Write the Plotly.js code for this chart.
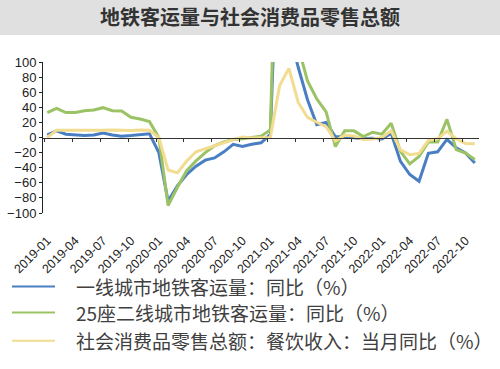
<!DOCTYPE html>
<html><head><meta charset="utf-8">
<script src="https://cdn.plot.ly/plotly-3.0.1.min.js"></script>
<style>html,body{margin:0;padding:0;background:#fff}#chart{width:500px;height:369px}</style>
</head><body><div id="chart"></div>
<script>
const months = [
  '2019-01','2019-02','2019-03','2019-04','2019-05','2019-06','2019-07','2019-08','2019-09','2019-10','2019-11','2019-12',
  '2020-01','2020-02','2020-03','2020-04','2020-05','2020-06','2020-07','2020-08','2020-09','2020-10','2020-11','2020-12',
  '2021-01','2021-02','2021-03','2021-04','2021-05','2021-06','2021-07','2021-08','2021-09','2021-10','2021-11','2021-12',
  '2022-01','2022-02','2022-03','2022-04','2022-05','2022-06','2022-07','2022-08','2022-09','2022-10','2022-11'
];
const tier1Metro = [
  3.4, 8.7, 4.3, 3.4, 2.6, 3.4, 6.0, 3.4, 1.7, 2.6, 3.4, 5.0,
  -20, -84, -64, -49, -38, -30, -27, -19, -9, -12, -9, -7,
  4, 340, 140, 93, 50, 17, 20, 1, 1, 0, -1.8, -1,
  -2, 5.7, -31.6, -49, -58, -21, -19, -2.5, -13.5, -20.5, -33.7
];
const tier2Metro = [
  33, 38.5, 33, 33, 35.5, 36.4, 39.5, 35.5, 35, 26.7, 24.5, 21,
  0, -90, -66, -44, -31, -20, -11, -6, -2.6, -1.8, 0, 1.8,
  10, 450, 180, 120, 75, 51, 34, -12, 9, 8.8, 1.3, 7,
  4.4, 19, -18.4, -35, -25, -6, -6, 24, -16, -20.6, -29
];
const catering = [
  0, 9.7, 9.6, 9.4, 9.2, 9.4, 9.6, 9.8, 9.4, 9.4, 9.8, 9.6,
  0, -43.1, -46.8, -31.1, -18.9, -15.2, -11.0, -7.0, -2.9, 0.8, -0.6, -0.5,
  0, 68.9, 91.6, 46.4, 26.6, 20.2, 14.3, -4.5, 3.1, 2.0, -2.7, -2.1,
  0, 8.9, -16.4, -22.7, -21.1, -4.0, -1.5, 8.4, -1.7, -8.1, -8.4
];
const seriesNames = [
  '一线城市地铁客运量：同比（%）',
  '25座二线城市地铁客运量：同比（%）',
  '社会消费品零售总额：餐饮收入：当月同比（%）'
];
const seriesColors = ['#4a7ec2', '#9bc365', '#f1dc8f'];
const yTicks = [100, 80, 60, 40, 20, 0, -20, -40, -60, -80, -100];
const titleText = '地铁客运量与社会消费品零售总额';

const xIdx = months.map((m, i) => i);
const tickIdx = xIdx.filter(i => i % 3 === 0);
const tickText = tickIdx.map(i => months[i]);

const allSeries = [tier1Metro, tier2Metro, catering];
const traces = allSeries.map((vals, k) => ({
  type: 'scatter', mode: 'lines', x: xIdx, y: vals, name: seriesNames[k],
  line: {color: seriesColors[k], width: 3}, cliponaxis: true, hoverinfo: 'skip', showlegend: false
}));
traces.push({type: 'scatter', mode: 'lines', x: xIdx, y: xIdx.map(() => null), xaxis: 'x2',
             showlegend: false, hoverinfo: 'skip'});

// legend block (below plot), drawn as line samples + text labels
const legendRowY = [-0.4875, -0.6588, -0.8458];
const legendShapes = seriesNames.map((n, k) => ({
  type: 'line', xref: 'paper', yref: 'paper', x0: -0.0711, x1: 0.0275, y0: legendRowY[k], y1: legendRowY[k],
  line: {color: seriesColors[k], width: 2}
}));
const legendTexts = seriesNames.map((n, k) => ({
  xref: 'paper', yref: 'paper', x: 0.0711, y: legendRowY[k], xanchor: 'left', yanchor: 'middle',
  text: n, showarrow: false, font: {family: 'Noto Sans CJK SC', size: 19, color: '#404040'}
}));

const xr = [-0.46, 46.45];
const layout = {
  width: 500, height: 369,
  margin: {l: 43, r: 21, t: 61.5, b: 155.7},
  paper_bgcolor: '#ffffff', plot_bgcolor: '#ffffff',
  showlegend: false,
  title: {text: titleText, font: {family: 'Noto Sans CJK SC', size: 20, color: '#333333', weight: 700},
          xref: 'container', x: 0.5, xanchor: 'center', yref: 'container', y: 0.951, yanchor: 'middle'},
  xaxis: {range: xr, tickmode: 'array', tickvals: tickIdx, ticktext: tickText, tickangle: -45,
          showline: false, showgrid: false, zeroline: false, ticks: '',
          ticklabelstandoff: 17,
          tickfont: {family: 'Liberation Sans, Arial', size: 12.5, color: '#222'}},
  xaxis2: {range: xr, overlaying: 'x', anchor: 'free', position: 0.5, tickmode: 'array',
           tickvals: tickIdx.map(i => i - 0.3), showticklabels: false, ticks: 'outside', ticklen: 3,
           tickcolor: '#333', showline: true, linecolor: '#333', linewidth: 1.5, showgrid: false, zeroline: false},
  yaxis: {range: [-100, 100], tickmode: 'array', tickvals: yTicks, ticks: 'outside', ticklen: 3,
          tickcolor: '#222', showline: true, linecolor: '#222', linewidth: 1, showgrid: false, zeroline: false,
          tickfont: {family: 'Liberation Sans, Arial', size: 13, color: '#222'}},
  annotations: legendTexts,
  shapes: [{type: 'rect', xref: 'paper', yref: 'paper', x0: -0.12, x1: 1.06, y0: 1.179, y1: 1.42,
            fillcolor: '#e0e0e0', line: {width: 0}, layer: 'below'}].concat(legendShapes)
};
Plotly.newPlot('chart', traces, layout, {displayModeBar: false, staticPlot: true});
</script></body></html>
